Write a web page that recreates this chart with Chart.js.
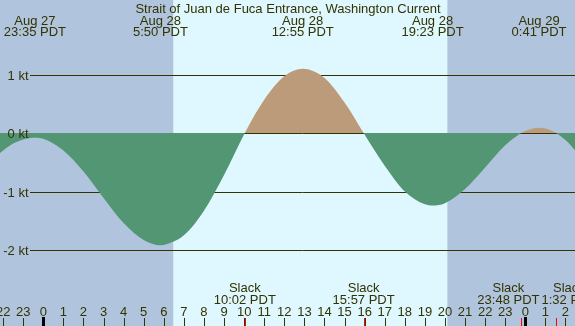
<!DOCTYPE html>
<html>
<head>
<meta charset="utf-8">
<script src="https://cdn.jsdelivr.net/npm/chart.js@4.4.0/dist/chart.umd.min.js"></script>
<style>
  html, body { margin: 0; padding: 0; background: #fff; }
  #wrap { width: 575px; height: 326px; }
</style>
</head>
<body>
<div id="wrap"><canvas id="currentChart"></canvas></div>
<script>
// Hours after Aug 28 00:00 PDT and current speed in knots
const curveHours = [-2.5, -2, -1.5, -1, -0.417, 0, 1, 2, 3, 4, 5, 5.833, 6, 7, 8, 9, 10.033,
    11, 12, 12.917, 14, 15, 15.95, 17, 18, 19, 19.383, 20, 21, 22, 23, 23.8, 24, 24.683, 25,
    25.533, 26, 26.6];
const curveKnots = [-0.44, -0.30, -0.18, -0.11, -0.08, -0.10, -0.30, -0.66, -1.11, -1.54, -1.83, -1.92, -1.915, -1.75, -1.33, -0.72, 0,
    0.57, 0.97, 1.10, 0.94, 0.52, 0, -0.56, -1.00, -1.22, -1.24, -1.20, -0.96, -0.59, -0.21, 0, 0.036, 0.09, 0.077,
    0, -0.12, -0.34];

// daylight between sunrise and sunset
const sunHours = [6.47, 20.12];

// max / min current
const extremaHours = [-0.417, 5.833, 12.917, 19.383, 24.683];
const extremaDays = ['Aug 27', 'Aug 28', 'Aug 28', 'Aug 28', 'Aug 29'];
const extremaTimes = ['23:35 PDT', '5:50 PDT', '12:55 PDT', '19:23 PDT', '0:41 PDT'];

// slack water
const slackHours = [10.033, 15.95, 23.8, 25.533];
const slackTimes = ['10:02 PDT', '15:57 PDT', '23:48 PDT', '1:32 PDT'];

const gridKnots = [1, 0, -1, -2];
const gridLabels = ['1 kt', '0 kt', '-1 kt', '-2 kt'];

const tickHours = [-2, -1, 0, 1, 2, 3, 4, 5, 6, 7, 8, 9, 10, 11, 12, 13, 14, 15, 16, 17, 18, 19, 20,
    21, 22, 23, 24, 25, 26];
const tickLabels = ['22', '23', '0', '1', '2', '3', '4', '5', '6', '7', '8', '9', '10', '11', '12', '13',
    '14', '15', '16', '17', '18', '19', '20', '21', '22', '23', '0', '1', '2'];
const midnightHours = [0, 24];

const xRange = [-2.156, 26.475];
const yRange = [-3.30197, 2.27545];

const title = 'Strait of Juan de Fuca Entrance, Washington Current';

const NIGHT = '#B0C4DE';
const DAY = '#DFF7FF';
const EBB = '#529673';
const FLOOD = '#BC9B7B';
const INK = '#333300';
const FONT = '13px "Liberation Sans", Arial, sans-serif';

// row of a knot line
function knotRow(y, v) {
    return Math.round(y.getPixelForValue(v) + 0.3);
}

// centres of labels pushed apart so that neighbours do not overlap
function spread(ctx, centers, texts) {
    const out = centers.slice();
    const widths = texts.map(t => ctx.measureText(t).width);
    for (let i = 1; i < out.length; i++) {
        const overlap = (widths[i - 1] + widths[i]) / 2 + 2 - (out[i] - out[i - 1]);
        if (overlap > 0) {
            out[i - 1] -= overlap / 2;
            out[i] += overlap / 2;
        }
    }
    return out;
}

const backdrop = {
    id: 'backdrop',
    beforeDraw(chart) {
        const { ctx, chartArea: a, scales: { x, y } } = chart;
        ctx.save();
        ctx.fillStyle = NIGHT;
        ctx.fillRect(a.left, a.top, a.width, a.height);
        const x0 = x.getPixelForValue(sunHours[0]);
        const x1 = x.getPixelForValue(sunHours[1]);
        ctx.fillStyle = DAY;
        ctx.fillRect(x0, a.top, x1 - x0, a.height);

        // knot lines, 0 kt is drawn between the two fills
        ctx.strokeStyle = INK;
        ctx.lineWidth = 1;
        gridKnots.forEach(v => {
            if (v === 0) return;
            const py = knotRow(y, v) + 0.5;
            ctx.beginPath();
            ctx.moveTo(30, py);
            ctx.lineTo(a.right, py);
            ctx.stroke();
        });
        ctx.restore();
    },
    afterDatasetDraw(chart, args) {
        if (args.index !== 1) return;
        const { ctx, chartArea: a, scales: { y } } = chart;
        const py = Math.round(y.getPixelForValue(0)) + 0.5;
        ctx.save();
        ctx.strokeStyle = INK;
        ctx.lineWidth = 1;
        ctx.beginPath();
        ctx.moveTo(30, py);
        ctx.lineTo(a.right, py);
        ctx.stroke();
        ctx.restore();
    },
    afterDatasetsDraw(chart) {
        const { ctx, chartArea: a, scales: { x, y } } = chart;
        ctx.save();
        ctx.font = FONT;
        ctx.fillStyle = INK;
        ctx.textBaseline = 'alphabetic';

        ctx.textAlign = 'center';
        ctx.fillText(title, 288, 13);
        const ex = spread(ctx, extremaHours.map(h => x.getPixelForValue(h)), extremaTimes);
        ex.forEach((px, i) => {
            ctx.fillText(extremaDays[i], px, 24.5);
            ctx.fillText(extremaTimes[i], px, 36);
        });

        const sx = spread(ctx, slackHours.map(h => x.getPixelForValue(h)), slackTimes);
        sx.forEach((px, i) => {
            ctx.fillText('Slack', px, 292);
            ctx.fillText(slackTimes[i], px, 304);
        });

        tickHours.forEach((h, i) => {
            const px = x.getPixelForValue(h);
            ctx.fillText(tickLabels[i], px, 316);
            ctx.fillRect(Math.round(px), 318, 1, a.bottom - 318);
        });
        ctx.fillStyle = '#000';
        midnightHours.forEach(h => {
            const px = Math.round(x.getPixelForValue(h));
            ctx.fillRect(px - 1, 317, 3, a.bottom - 317);
        });
        ctx.fillStyle = '#ff0000';
        slackHours.forEach(h => {
            const px = Math.round(x.getPixelForValue(h));
            ctx.fillRect(px, 318, 1, a.bottom - 318);
        });

        ctx.fillStyle = INK;
        ctx.textAlign = 'right';
        gridKnots.forEach((v, i) => {
            ctx.fillText(gridLabels[i], 28.5, knotRow(y, v) + 4.5);
        });
        ctx.restore();
    }
};

function createChart() {
    const ctx = document.getElementById('currentChart').getContext('2d');
    const points = curveHours.map((h, i) => ({ x: h, y: curveKnots[i] }));

    new Chart(ctx, {
        type: 'line',
        data: {
            datasets: [
                {
                    label: 'Ebb',
                    data: points,
                    borderWidth: 0,
                    borderColor: 'rgba(0,0,0,0)',
                    pointRadius: 0,
                    cubicInterpolationMode: 'monotone',
                    fill: { target: 'origin', above: 'rgba(0,0,0,0)', below: EBB }
                },
                {
                    label: 'Flood',
                    data: points,
                    borderWidth: 0,
                    borderColor: 'rgba(0,0,0,0)',
                    pointRadius: 0,
                    cubicInterpolationMode: 'monotone',
                    fill: { target: 'origin', above: FLOOD, below: 'rgba(0,0,0,0)' }
                }
            ]
        },
        options: {
            responsive: true,
            maintainAspectRatio: false,
            animation: false,
            events: [],
            layout: { padding: 0 },
            plugins: {
                legend: { display: false },
                tooltip: { enabled: false },
                title: { display: false }
            },
            scales: {
                x: { type: 'linear', min: xRange[0], max: xRange[1], display: false },
                y: { type: 'linear', min: yRange[0], max: yRange[1], display: false }
            }
        },
        plugins: [backdrop]
    });
}

window.addEventListener('load', createChart);
</script>
</body>
</html>
